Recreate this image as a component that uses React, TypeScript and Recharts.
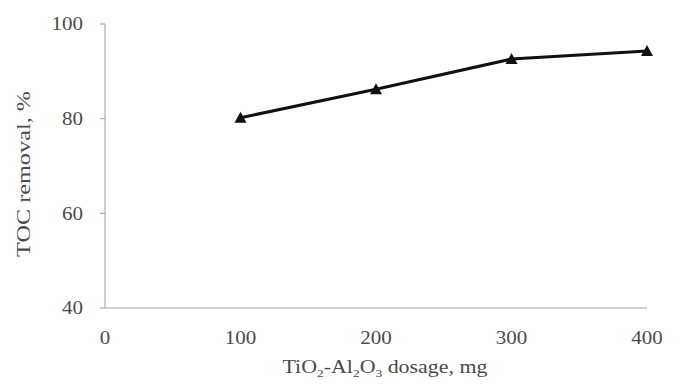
import { LineChart, Line, XAxis, YAxis } from 'recharts';

const dosages = [100, 200, 300, 400];
const tocRemoval = [80.2, 86.2, 92.6, 94.3];
const xTicks = [0, 100, 200, 300, 400];
const yTicks = [40, 60, 80, 100];

const data = dosages.map((d, i) => ({ dosage: d, toc: tocRemoval[i] }));

const font = '"Liberation Serif", "DejaVu Serif", serif';
const textColor = '#4a4a4a';

function Triangle({ cx, cy }: any) {
  if (cx == null || cy == null) return null;
  return <polygon points={`${cx - 6},${cy + 5} ${cx + 6},${cy + 5} ${cx},${cy - 6}`} fill='#111' />;
}

// wide serif digits like the scanned figure
function Tick({ x, y, payload, textAnchor }: any) {
  const s = String(payload.value);
  return (
    <text
      x={x}
      y={y}
      dy='0.355em'
      textAnchor={textAnchor}
      fontFamily={font}
      fontSize={18}
      fill={textColor}
      textLength={s.length * 10.5}
      lengthAdjust='spacingAndGlyphs'
    >
      {s}
    </text>
  );
}

function XLabel() {
  return (
    <text
      x={385}
      y={373}
      textAnchor='middle'
      fontFamily={font}
      fontSize={18}
      fill={textColor}
      textLength={205}
      lengthAdjust='spacingAndGlyphs'
    >
      TiO<tspan dy={4} fontSize={11}>2</tspan>
      <tspan dy={-4}>-Al</tspan>
      <tspan dy={4} fontSize={11}>2</tspan>
      <tspan dy={-4}>O</tspan>
      <tspan dy={4} fontSize={11}>3</tspan>
      <tspan dy={-4}> dosage, mg</tspan>
    </text>
  );
}

function YLabel() {
  return (
    <text
      x={0}
      y={0}
      transform='translate(30, 174) rotate(-90)'
      textAnchor='middle'
      fontFamily={font}
      fontSize={18}
      fill={textColor}
      textLength={166}
      lengthAdjust='spacingAndGlyphs'
    >
      TOC removal, %
    </text>
  );
}

export default function App() {
  return (
    <div style={{ width: 680, height: 387 }}>
      <style>{`body{margin:0}`}</style>
      <LineChart width={680} height={387} data={data} margin={{ top: 24, right: 33, bottom: 49, left: 0 }}>
        <XAxis
          dataKey='dosage'
          type='number'
          domain={[0, 400]}
          ticks={xTicks}
          axisLine={{ stroke: '#cfcfcf', strokeWidth: 2 }}
          tickLine={false}
          tickMargin={24}
          height={30}
          tick={<Tick />}
          label={<XLabel />}
        />
        <YAxis
          type='number'
          domain={[40, 100]}
          ticks={yTicks}
          width={105}
          axisLine={{ stroke: '#cfcfcf', strokeWidth: 2 }}
          tickLine={{ stroke: '#999' }}
          tickSize={5}
          tickMargin={17}
          tick={<Tick />}
          label={<YLabel />}
        />
        <Line
          dataKey='toc'
          stroke='#111'
          strokeWidth={3}
          dot={<Triangle />}
          isAnimationActive={false}
        />
      </LineChart>
    </div>
  );
}
